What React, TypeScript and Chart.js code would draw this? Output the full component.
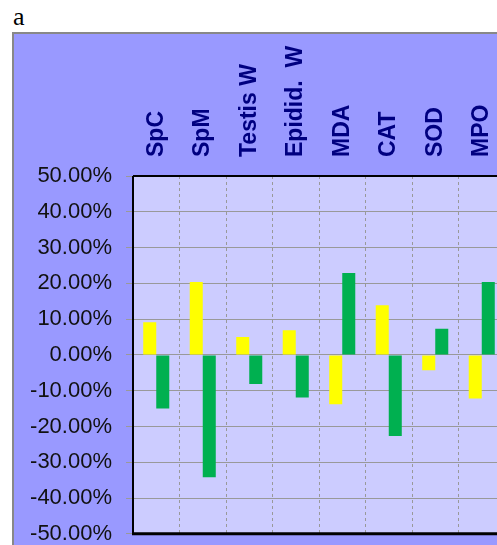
import React, { useEffect, useRef } from "react";
import { Chart, registerables } from "chart.js";
Chart.register(...registerables);

const categories = ["SpC", "SpM", "Testis W", "Epidid.  W", "MDA", "CAT", "SOD", "MPO"];
const seriesYellow = [9.1, 20.4, 5.0, 6.9, -13.8, 13.9, -4.3, -12.2];
const seriesGreen = [-15.0, -34.2, -8.1, -11.9, 22.9, -22.7, 7.3, 20.4];
const yMin = -50;
const yMax = 50;
const yStep = 10;

const bgPlugin = {
  id: "bgPlugin",
  beforeDraw(chart: any) {
    const { ctx, chartArea: a, width, height } = chart;
    ctx.save();
    ctx.fillStyle = "#9999FF";
    ctx.fillRect(0, 0, width, height);
    ctx.fillStyle = "#CCCCFF";
    ctx.fillRect(a.left, a.top, a.right - a.left, a.bottom - a.top);
    ctx.restore();
  },
  afterDraw(chart: any) {
    const { ctx, chartArea: a } = chart;
    ctx.save();
    ctx.strokeStyle = "#000000";
    ctx.lineWidth = 2;
    ctx.beginPath();
    ctx.moveTo(a.left, a.top);
    ctx.lineTo(a.right, a.top);
    ctx.moveTo(a.left, a.top);
    ctx.lineTo(a.left, a.bottom);
    ctx.stroke();
    ctx.lineWidth = 3;
    ctx.beginPath();
    ctx.moveTo(a.left - 1, a.bottom);
    ctx.lineTo(a.right, a.bottom);
    ctx.stroke();
    ctx.restore();
  },
};

export default function App() {
  const ref = useRef<HTMLCanvasElement | null>(null);
  useEffect(() => {
    if (!ref.current) return;
    const chart = new Chart(ref.current, {
      type: "bar",
      data: {
        labels: categories,
        datasets: [
          { data: seriesYellow, backgroundColor: "#FFFF00", borderWidth: 0, categoryPercentage: 0.56, barPercentage: 1 },
          { data: seriesGreen, backgroundColor: "#00B050", borderWidth: 0, categoryPercentage: 0.56, barPercentage: 1 },
        ],
      },
      options: {
        animation: false,
        responsive: false,
        maintainAspectRatio: false,
        layout: { padding: { left: 0, right: 0, top: 0, bottom: 11 } },
        plugins: { legend: { display: false }, tooltip: { enabled: false } },
        scales: {
          x: {
            position: "top",
            offset: true,
            afterFit: (s: any) => { s.height = 142; },
            grid: { display: true, color: "#999999", lineWidth: 1, drawTicks: false, offset: true },
            border: { display: false, dash: [3, 3] },
            ticks: {
              color: "#000080",
              font: { family: "'Liberation Sans', Arial, sans-serif", size: 23, weight: "bold" },
              minRotation: 90,
              maxRotation: 90,
              padding: 19,
              labelOffset: 28,
              autoSkip: false,
            },
          },
          y: {
            min: yMin,
            max: yMax,
            afterFit: (s: any) => { s.width = 119; },
            grid: { color: "#999999", lineWidth: 1, drawTicks: true, tickLength: 7 },
            border: { display: false },
            ticks: {
              stepSize: yStep,
              color: "#111111",
              padding: 14,
              font: { family: "'Liberation Sans', Arial, sans-serif", size: 22 },
              callback: (v: any) => Number(v).toFixed(2) + "%",
            },
          },
        },
      },
      plugins: [bgPlugin],
    });
    return () => chart.destroy();
  }, []);

  return (
    <div style={{ position: "fixed", left: 0, top: 0, width: 497, height: 545, overflow: "hidden", background: "#fff" }}>
      <div style={{ position: "absolute", left: 13, top: 4, fontFamily: "'Liberation Serif', 'Times New Roman', serif", fontSize: 26, lineHeight: "26px", color: "#000" }}>a</div>
      <div style={{ position: "absolute", left: 12, top: 32, width: 520, height: 530, borderLeft: "2px solid #888", borderTop: "2px solid #888", background: "#9999FF" }} />
      <canvas ref={ref} width={491} height={527} style={{ position: "absolute", left: 14, top: 34, width: 491, height: 527 }} />
    </div>
  );
}
